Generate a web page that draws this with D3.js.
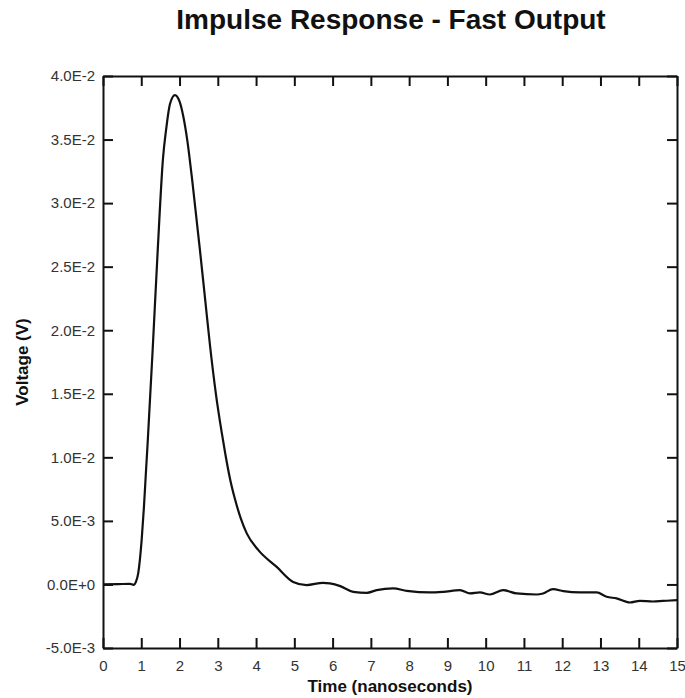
<!DOCTYPE html>
<html>
<head>
<meta charset="utf-8">
<script src="https://cdn.jsdelivr.net/npm/d3@7"></script>
<style>
  body { margin: 0; background: #fff; }
  svg { display: block; }
</style>
</head>
<body>
<svg id="main-vis"></svg>
<script>
// time in nanoseconds
const timeNs = [
  0.0, 0.4, 0.7, 0.8, 0.86, 0.92, 1.01, 1.07, 1.12, 1.17, 1.3, 1.43, 1.57, 1.65, 1.75,
  1.88, 2.0, 2.1, 2.2, 2.35, 2.53, 2.67, 2.8, 2.95, 3.1, 3.2, 3.32, 3.45, 3.6, 3.76, 4.06, 4.54, 4.97,
  5.32, 5.75, 5.93, 6.2, 6.54, 6.89, 7.15, 7.58, 7.94, 8.54, 8.89, 9.33, 9.59, 9.85,
  10.11, 10.46, 10.81, 11.33, 11.5, 11.76, 12.03, 12.46, 12.9, 13.16, 13.42, 13.77,
  14.03, 14.37, 14.63, 15.0
];
// voltage in volts
const voltage = [
  0.0, 0.00002, 0.00005, -0.00003, 0.0002, 0.00087, 0.00348, 0.0061, 0.00873, 0.0113, 0.0186, 0.0263, 0.0336, 0.0358, 0.0378,
  0.0385, 0.0380, 0.0368, 0.0350, 0.0313, 0.0264, 0.0224, 0.0187, 0.0150, 0.0120, 0.0102, 0.0083, 0.0067, 0.0052, 0.0040, 0.0027, 0.00138, 0.0002,
  -0.00005, 0.00013, 0.00008, -0.00013, -0.00058, -0.00066, -0.00045, -0.00031, -0.0005, -0.00063, -0.00058, -0.00045, -0.00071, -0.00063,
  -0.00079, -0.00045, -0.00071, -0.00079, -0.00071, -0.00037, -0.00053, -0.00063, -0.00063, -0.00097, -0.0011, -0.00142,
  -0.00129, -0.00134, -0.0013, -0.00124
];

const xTicks = d3.range(0, 16);
const yTicks = [-0.005, 0, 0.005, 0.01, 0.015, 0.02, 0.025, 0.03, 0.035, 0.04];
const yTickLabels = ["-5.0E-3", "0.0E+0", "5.0E-3", "1.0E-2", "1.5E-2", "2.0E-2", "2.5E-2", "3.0E-2", "3.5E-2", "4.0E-2"];

const width = 685;
const height = 698;
const margin = { top: 76, right: 8, bottom: 50, left: 103 };

const svg = d3.select("#main-vis")
  .attr("width", width)
  .attr("height", height);

const x = d3.scaleLinear().domain([0, 15]).range([margin.left, width - margin.right]);
const y = d3.scaleLinear().domain([-0.005, 0.04]).range([height - margin.bottom, margin.top]);

const data = timeNs.map((t, i) => ({ t: t, v: voltage[i] }));

// title
svg.append("text")
  .attr("x", 391)
  .attr("y", 29)
  .attr("text-anchor", "middle")
  .attr("font-family", "Liberation Sans, Arial, sans-serif")
  .attr("font-weight", "bold")
  .attr("font-size", 28)
  .attr("fill", "#111")
  .text("Impulse Response - Fast Output");

function styleAxis(g) {
  g.select(".domain").attr("stroke", "#111").attr("stroke-width", 2);
  g.selectAll(".tick line").attr("stroke", "#111").attr("stroke-width", 2);
  g.selectAll(".tick text")
    .attr("font-family", "Liberation Sans, Arial, sans-serif")
    .attr("font-size", 15)
    .attr("fill", "#333");
}

// bottom axis
svg.append("g")
  .attr("transform", `translate(0,${y(-0.005)})`)
  .call(d3.axisBottom(x).tickValues(xTicks).tickSize(-10).tickSizeOuter(0).tickPadding(12).tickFormat(d3.format("d")))
  .call(styleAxis);

// top axis (ticks only)
svg.append("g")
  .attr("transform", `translate(0,${y(0.04)})`)
  .call(d3.axisTop(x).tickValues(xTicks).tickSize(-10).tickSizeOuter(0).tickFormat(""))
  .call(styleAxis);

// left axis
svg.append("g")
  .attr("transform", `translate(${x(0)},0)`)
  .call(d3.axisLeft(y).tickValues(yTicks).tickSize(-10).tickSizeOuter(0).tickPadding(8)
    .tickFormat((d, i) => yTickLabels[i]))
  .call(styleAxis);

// right axis (ticks only)
svg.append("g")
  .attr("transform", `translate(${x(15)},0)`)
  .call(d3.axisRight(y).tickValues(yTicks).tickSize(-10).tickSizeOuter(0).tickFormat(""))
  .call(styleAxis);

// curve
const line = d3.line()
  .x(d => x(d.t))
  .y(d => y(d.v))
  .curve(d3.curveMonotoneX);

svg.append("path")
  .datum(data)
  .attr("d", line)
  .attr("fill", "none")
  .attr("stroke", "#111")
  .attr("stroke-width", 2.2)
  .attr("stroke-linejoin", "round");

// axis titles
svg.append("text")
  .attr("x", 390)
  .attr("y", 692)
  .attr("text-anchor", "middle")
  .attr("font-family", "Liberation Sans, Arial, sans-serif")
  .attr("font-weight", "bold")
  .attr("font-size", 17)
  .attr("fill", "#111")
  .text("Time (nanoseconds)");

svg.append("text")
  .attr("transform", "translate(28,362) rotate(-90)")
  .attr("text-anchor", "middle")
  .attr("font-family", "Liberation Sans, Arial, sans-serif")
  .attr("font-weight", "bold")
  .attr("font-size", 17)
  .attr("fill", "#111")
  .text("Voltage (V)");
</script>
</body>
</html>
